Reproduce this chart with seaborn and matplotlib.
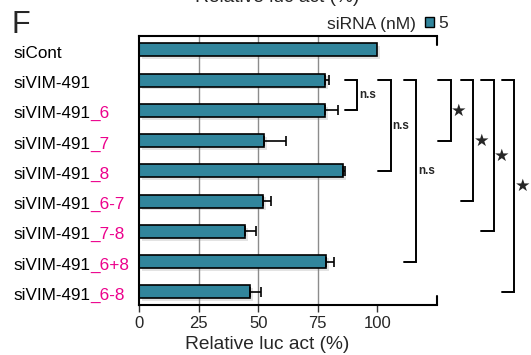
import numpy as np
import matplotlib
matplotlib.use("Agg")
import matplotlib.pyplot as plt
import matplotlib.patheffects as pe
from matplotlib.patches import Patch
import seaborn as sns

# data
label_base = ["siCont", "siVIM-491", "siVIM-491", "siVIM-491", "siVIM-491",
              "siVIM-491", "siVIM-491", "siVIM-491", "siVIM-491"]
label_suffix = ["", "", "_6", "_7", "_8", "_6-7", "_7-8", "_6+8", "_6-8"]
rel_act = [100, 78, 78, 52.5, 85.5, 52, 44.5, 78.5, 46.5]
rel_err = [0, 1.8, 5.5, 9, 1, 3.5, 4.5, 3.5, 4.5]
x_ticks = [0, 25, 50, 75, 100]
grid_at = [25, 50, 75]
# significance: (from row, to row, label)
comparisons = [(1, 2, "n.s"), (1, 4, "n.s"), (1, 7, "n.s"),
               (1, 3, "★"), (1, 5, "★"), (1, 6, "★"), (1, 8, "★")]

bar_color = "#31859C"
pink = "#EC008C"

sns.set_theme(style="white")
plt.rcParams["font.family"] = ["Liberation Sans", "DejaVu Sans"]

fig = plt.figure(figsize=(5.31, 3.55), dpi=100)
ax = fig.add_axes([139 / 531, 1 - 305 / 355, 298 / 531, 269 / 355])

names = [b + s for b, s in zip(label_base, label_suffix)]
sns.barplot(x=rel_act, y=names, orient="h", color=bar_color, width=0.43,
            edgecolor="black", linewidth=1.2, saturation=1, ax=ax, zorder=2)
for p in ax.patches:
    p.set_path_effects([pe.SimplePatchShadow(offset=(2, -2), shadow_rgbFace="gray", alpha=0.22),
                        pe.Normal()])

pos = np.arange(len(rel_act))
ax.errorbar(rel_act[1:], pos[1:], xerr=[np.zeros(len(pos) - 1), rel_err[1:]],
            fmt="none", ecolor="black", elinewidth=1.2, capsize=3.5, capthick=1.2, zorder=3)

for v in grid_at:
    ax.axvline(v, color="#8c8c8c", lw=1, zorder=0)

ax.set_xlim(0, 125)
ax.set_ylim(8.43, -0.46)
ax.set_xticks(x_ticks)
ax.set_xticklabels([str(t) for t in x_ticks], fontsize=12)
ax.set_yticks([])
ax.set_ylabel("")
ax.tick_params(axis="x", direction="out", length=5, width=1, color="#333333", pad=3, bottom=True)
ax.set_xlabel("Relative luc act (%)", fontsize=13.8, labelpad=0)
ax.xaxis.set_label_coords((267 - 139) / 298, -0.115)
for side in ["top", "left", "bottom"]:
    ax.spines[side].set_color("black")
    ax.spines[side].set_linewidth(1.5)
ax.spines["right"].set_visible(False)
ax.plot([1, 1], [0, 0.035], transform=ax.transAxes, color="black", lw=1.5, clip_on=False)
ax.plot([1, 1], [0.965, 1], transform=ax.transAxes, color="black", lw=1.5, clip_on=False)

# two-colour category labels, left aligned
lx = (13 - 139) / 298
for i, (b, s) in enumerate(zip(label_base, label_suffix)):
    t = ax.text(lx, i + 0.26, b, transform=ax.get_yaxis_transform(), ha="left",
                va="baseline", fontsize=12.3, color="black")
    if s:
        ax.annotate(s, xy=(1, 0), xycoords=t, ha="left", va="bottom",
                    fontsize=12.3, color=pink)

# significance brackets
bracket_x = [91.6, 105.5, 116.4, 130.7, 140.3, 148.7, 157.5]
arm = 5.2
for (r0, r1, lab), xv in zip(comparisons, bracket_x):
    ax.plot([xv - arm, xv, xv, xv - arm], [r0, r0, r1, r1], color="black",
            lw=1.4, clip_on=False, solid_joinstyle="miter")
    ym = (r0 + r1) / 2
    if lab == "n.s":
        ax.text(xv + 0.8, ym, lab, fontsize=8.5, fontweight="bold", ha="left", va="center")
    else:
        ax.text(xv + 0.2, ym, lab, fontsize=12.5, ha="left", va="center",
                family=["DejaVu Sans"])

# legend
fig.text(327 / 531, 1 - 29 / 355, "siRNA (nM)", fontsize=12.5, va="baseline")
fig.legend(handles=[Patch(facecolor=bar_color, edgecolor="black", linewidth=1)], labels=["5"],
           loc="center left", bbox_to_anchor=(425 / 531, 1 - 24 / 355), frameon=False,
           borderpad=0, borderaxespad=0, handlelength=0.5, handleheight=0.5,
           handletextpad=0.25, fontsize=12.5)

fig.text(12 / 531, 1 - 33 / 355, "F", fontsize=22, va="baseline")
# axis title of the panel above, cut at the top edge as in the reference
fig.text(277 / 531, 1 - 2 / 355, "Relative luc act (%)", fontsize=13.8, ha="center", va="baseline")

fig.savefig("out.png", dpi=100)
